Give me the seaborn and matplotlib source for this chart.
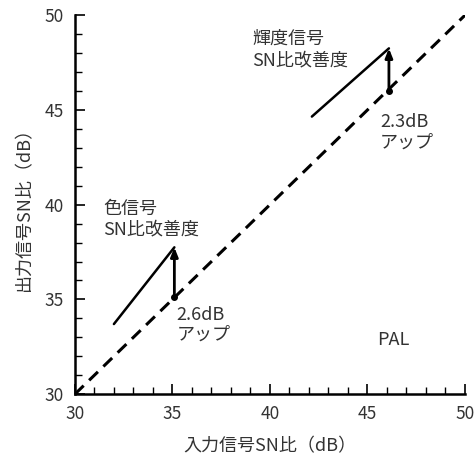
import matplotlib
matplotlib.use("Agg")
import matplotlib.pyplot as plt
import seaborn as sns
import pandas as pd
import numpy as np

# reference line (output = input)
ref_x = [30, 50]
ref_y = [30, 50]

# chroma signal improvement
chroma_x = [32.0, 35.1]
chroma_y = [33.7, 37.75]
chroma_base = 35.15

# luminance signal improvement
luma_x = [42.15, 46.1]
luma_y = [44.65, 48.25]
luma_base = 46.0

sns.set_theme(style="white")
plt.rcParams['font.family'] = ['Noto Sans CJK JP', 'DejaVu Sans']

txt = '#333333'
fs = 13

fig, ax = plt.subplots(figsize=(4.74, 4.61), dpi=100)
fig.subplots_adjust(left=0.158, right=0.981, top=0.967, bottom=0.145)

sns.lineplot(x=ref_x, y=ref_y, ax=ax, color='black', lw=2.2)
ax.lines[-1].set_linestyle((0, (4, 2.5)))
sns.lineplot(x=chroma_x, y=chroma_y, ax=ax, color='black', lw=1.8)
sns.lineplot(x=luma_x, y=luma_y, ax=ax, color='black', lw=1.8)

for x, y0, y1 in [(chroma_x[-1], chroma_base, chroma_y[-1]),
                  (luma_x[-1], luma_base, luma_y[-1])]:
    ax.annotate('', xy=(x, y1), xytext=(x, y0),
                arrowprops=dict(arrowstyle='-|>,head_length=0.45,head_width=0.18',
                                color='black', lw=2.0, shrinkA=0, shrinkB=0))
    ax.plot([x], [y0], marker='o', ms=4, color='black')

ax.text(31.45, 39.8, '色信号', fontsize=fs, color=txt, ha='left', va='center')
ax.text(31.45, 38.7, 'SN比改善度', fontsize=fs, color=txt, ha='left', va='center')
ax.text(35.2, 34.2, '2.6dB', fontsize=fs, color=txt, ha='left', va='center')
ax.text(35.2, 33.15, 'アップ', fontsize=fs, color=txt, ha='left', va='center')
ax.text(39.1, 48.75, '輝度信号', fontsize=fs, color=txt, ha='left', va='center')
ax.text(39.1, 47.6, 'SN比改善度', fontsize=fs, color=txt, ha='left', va='center')
ax.text(45.65, 44.35, '2.3dB', fontsize=fs, color=txt, ha='left', va='center')
ax.text(45.65, 43.3, 'アップ', fontsize=fs, color=txt, ha='left', va='center')
ax.text(45.5, 32.85, 'PAL', fontsize=fs, color=txt, ha='left', va='center')

ax.set_xlim(30, 50)
ax.set_ylim(30, 50)
ax.set_xticks(np.arange(30, 51, 5))
ax.set_yticks(np.arange(30, 51, 5))
ax.set_xticks(np.arange(30, 51, 1), minor=True)
ax.set_yticks(np.arange(30, 51, 1), minor=True)
ax.tick_params(which='major', direction='in', length=7, width=1.2, colors='black',
               labelcolor=txt, labelsize=12.5, pad=8)
ax.tick_params(which='minor', direction='in', length=5, width=1.0, colors='black')
ax.tick_params(axis='x', which='both', bottom=True)
ax.tick_params(axis='y', which='both', left=True)

sns.despine(ax=ax)
for s in ['left', 'bottom']:
    ax.spines[s].set_color('black')
    ax.spines[s].set_linewidth(1.8)

ax.set_xlabel('入力信号SN比（dB）', fontsize=fs, color=txt, labelpad=10)
ax.set_ylabel('出力信号SN比（dB）', fontsize=fs, color=txt, labelpad=8)

fig.savefig('out.png', dpi=100)
